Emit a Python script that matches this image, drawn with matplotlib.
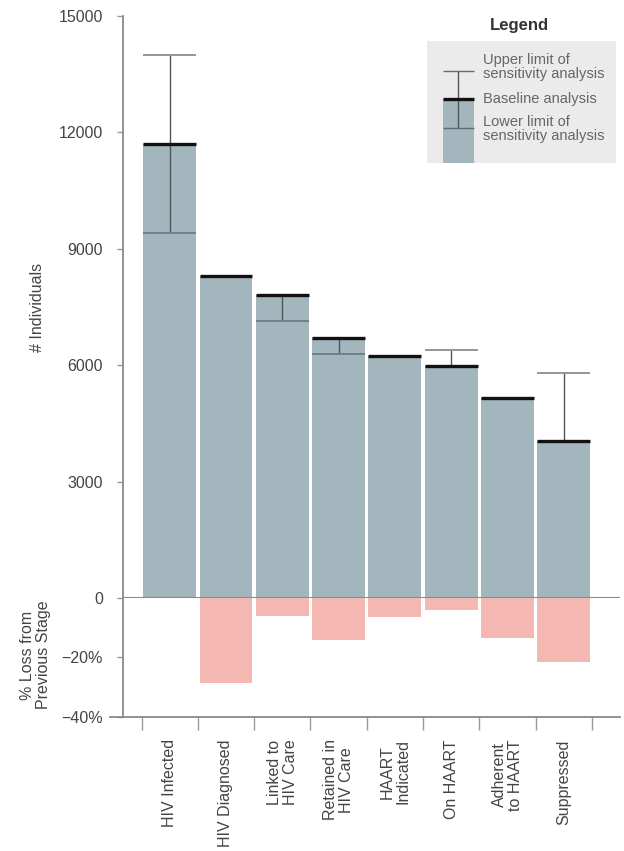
import numpy as np
import matplotlib
matplotlib.use('Agg')
import matplotlib.pyplot as plt

plt.rcParams['font.family'] = ['Liberation Sans', 'DejaVu Sans']

# data
stages = ['HIV Infected', 'HIV Diagnosed', 'Linked to\nHIV Care', 'Retained in\nHIV Care',
          'HAART\nIndicated', 'On HAART', 'Adherent\nto HAART', 'Suppressed']
baseline = [11700, 8300, 7800, 6700, 6230, 5980, 5150, 4050]
upper = [14000, np.nan, np.nan, np.nan, np.nan, 6400, np.nan, 5800]
lower = [9400, np.nan, 7150, 6300, np.nan, np.nan, np.nan, np.nan]
loss_pct = [0, -28.5, -6, -14, -6.5, -4, -13.5, -21.5]

bar_col = '#a3b5bd'
loss_col = '#f4b7b1'
axis_col = '#8a8a8a'
text_col = '#444444'

fig = plt.figure(figsize=(6.24, 8.51), dpi=100)
ax = fig.add_axes([0.197, 0.2973, 0.797, 0.6839])
ax2 = fig.add_axes([0.197, 0.1575, 0.797, 0.1398], sharex=ax)

x = np.arange(len(stages))
w = 0.94


def draw_bar(a, xi, base, up, lo, width):
    a.bar(xi, base, width=width, color=bar_col, zorder=2)
    lo_end = lo if not np.isnan(lo) else base
    up_end = up if not np.isnan(up) else base
    if lo_end != up_end:
        a.vlines(xi, lo_end, up_end, color='#4d5559', lw=1.0, zorder=3)
    if not np.isnan(up):
        a.hlines(up, xi - width / 2, xi + width / 2, color='#8c8c8c', lw=1.3, zorder=3)
    if not np.isnan(lo):
        a.hlines(lo, xi - width / 2, xi + width / 2, color='#6f8088', lw=1.4, zorder=3)
    a.hlines(base, xi - width / 2, xi + width / 2, color='#111111', lw=2.4, zorder=4)


for i in range(len(stages)):
    draw_bar(ax, x[i], baseline[i], upper[i], lower[i], w)

ax.axhline(0, color=axis_col, lw=1.5, zorder=5)
ax.set_ylim(0, 15000)
ax.set_xlim(-0.83, 8.0)
ax.set_yticks([0, 3000, 6000, 9000, 12000, 15000])
ax.set_yticklabels(['0', '3000', '6000', '9000', '12000', '15000'])
for s in ['top', 'right', 'bottom']:
    ax.spines[s].set_visible(False)
ax.spines['left'].set_color(axis_col)
ax.spines['left'].set_linewidth(1.3)
ax.tick_params(axis='y', colors='#999999', length=4.5, width=1, labelcolor=text_col,
               labelsize=11.5, pad=10)
ax.tick_params(axis='x', which='both', bottom=False, labelbottom=False)
ax.set_ylabel('# Individuals', fontsize=11.5, color=text_col)
ax.yaxis.set_label_coords(-0.157, 0.5)

# loss panel
ax2.bar(x, loss_pct, width=w, color=loss_col, zorder=2)
ax2.set_ylim(-40, 0)
ax2.set_yticks([-40, -20])
ax2.set_yticklabels(['\u221240%', '\u221220%'])
ax2.spines['top'].set_visible(False)
ax2.spines['right'].set_visible(False)
ax2.spines['left'].set_color(axis_col)
ax2.spines['left'].set_linewidth(1.3)
ax2.spines['bottom'].set_color(axis_col)
ax2.spines['bottom'].set_linewidth(1.3)
ax2.spines['bottom'].set_bounds(-1.06, 8.0)
ax2.tick_params(axis='y', colors='#999999', length=4.5, width=1, labelcolor=text_col,
                labelsize=11.5, pad=10)
ax2.set_xticks(np.arange(len(stages) + 1) - 0.5)
ax2.set_xticklabels([])
ax2.set_xticks(x, minor=True)
ax2.set_xticklabels(stages, minor=True, rotation=90, fontsize=11.5, color=text_col,
                    va='top', ha='center', linespacing=1.05)
ax2.tick_params(axis='x', which='major', colors='#999999', length=9, width=1)
ax2.tick_params(axis='x', which='minor', length=0, pad=16)
ax2.set_ylabel('% Loss from\nPrevious Stage', fontsize=11.5, color=text_col, linespacing=1.05)
ax2.yaxis.set_label_coords(-0.145, 0.52)

# custom legend key
lg = fig.add_axes([0.684, 0.8085, 0.303, 0.1434])
lg.set_facecolor('#ebebeb')
lg.set_xlim(0, 1)
lg.set_ylim(0, 1)
for s in lg.spines.values():
    s.set_visible(False)
lg.set_xticks([])
lg.set_yticks([])
key_x, key_w = 0.167, 0.165
lg.bar(key_x, 0.525, width=key_w, color=bar_col, zorder=2)
lg.vlines(key_x, 0.287, 0.754, color='#4d5559', lw=1.0, zorder=3)
lg.hlines(0.754, key_x - key_w / 2, key_x + key_w / 2, color='#6a6a6a', lw=1.0, zorder=3)
lg.hlines(0.287, key_x - key_w / 2, key_x + key_w / 2, color='#5f6d73', lw=1.0, zorder=3)
lg.hlines(0.525, key_x - key_w / 2, key_x + key_w / 2, color='#111111', lw=2.4, zorder=4)
lg_txt = dict(fontsize=10.5, color='#666666', va='center', ha='left', linespacing=1.0)
lg.text(0.295, 0.79, 'Upper limit of\nsensitivity analysis', **lg_txt)
lg.text(0.295, 0.525, 'Baseline analysis', **lg_txt)
lg.text(0.295, 0.28, 'Lower limit of\nsensitivity analysis', **lg_txt)
lg.text(0.49, 1.13, 'Legend', fontsize=12, fontweight='bold', color='#333333',
        ha='center', va='center')

fig.savefig('out.png', dpi=100)
